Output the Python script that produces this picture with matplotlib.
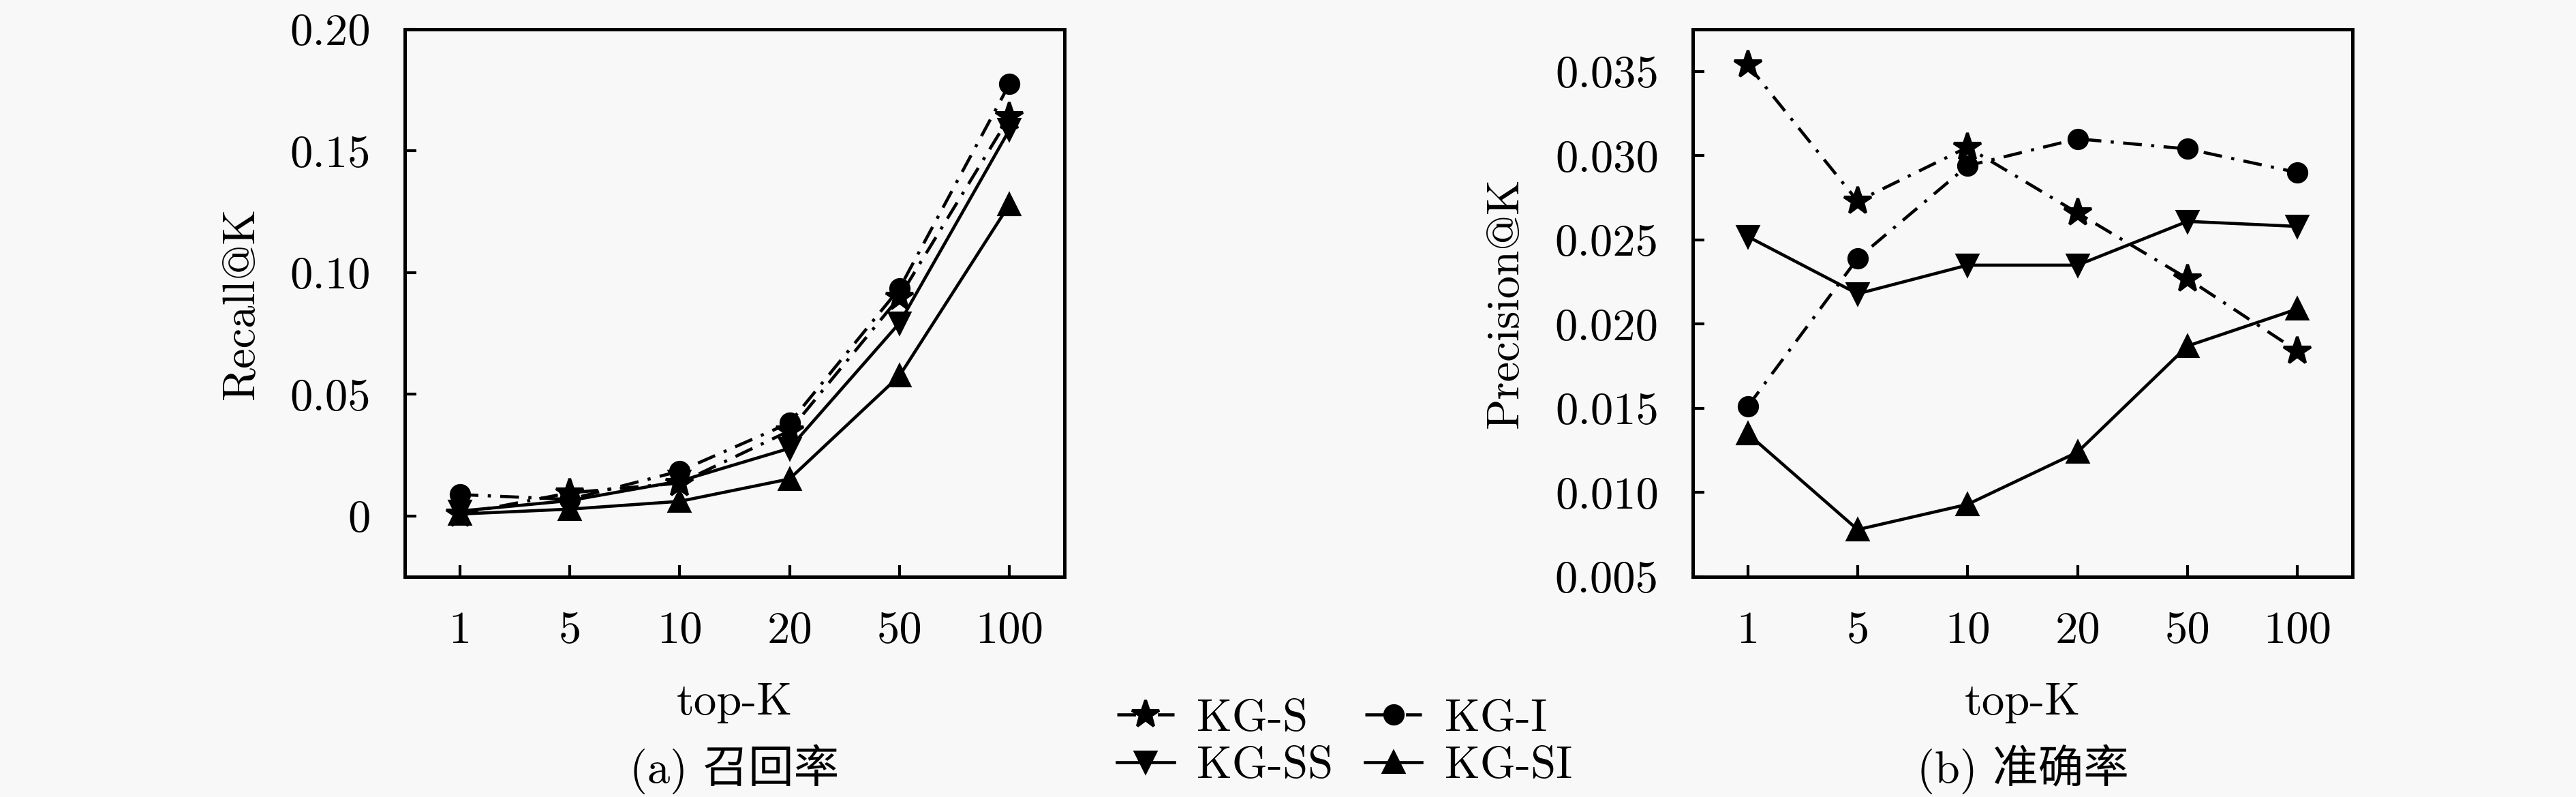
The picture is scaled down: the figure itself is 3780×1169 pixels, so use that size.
#!/usr/bin/env python3

"""
Recall@K and Precision@K for the four KG variants
"""

import matplotlib
matplotlib.use('Agg')
import matplotlib.pyplot as plt

top_k = ['1', '5', '10', '20', '50', '100']
models = ['KG-S', 'KG-I', 'KG-SS', 'KG-SI']

recall_kg_s = [0.0008, 0.0095, 0.0135, 0.0350, 0.0900, 0.1640]
recall_kg_i = [0.0088, 0.0068, 0.0184, 0.0382, 0.0935, 0.1775]
recall_kg_ss = [0.0020, 0.0063, 0.0143, 0.0278, 0.0793, 0.1587]
recall_kg_si = [0.0008, 0.0028, 0.0060, 0.0152, 0.0576, 0.1280]

prec_kg_s = [0.0354, 0.0273, 0.0305, 0.0266, 0.0227, 0.0184]
prec_kg_i = [0.0151, 0.0239, 0.0294, 0.0310, 0.0304, 0.0290]
prec_kg_ss = [0.0252, 0.0218, 0.0235, 0.0235, 0.0261, 0.0258]
prec_kg_si = [0.0135, 0.0078, 0.0093, 0.0124, 0.0187, 0.0209]

recall_ticks = [0, 0.05, 0.10, 0.15, 0.20]
recall_ticklabels = ['0', '0.05', '0.10', '0.15', '0.20']
prec_ticks = [0.005, 0.010, 0.015, 0.020, 0.025, 0.030, 0.035]
prec_ticklabels = ['0.005', '0.010', '0.015', '0.020', '0.025', '0.030', '0.035']

FONT = ['cmr10', 'Noto Sans CJK SC', 'DejaVu Serif']
FS = 16
BG = '#f8f8f8'

styles = {
    'KG-S': dict(marker='*', ms=10, ls=(0, (6, 3, 1, 3))),
    'KG-I': dict(marker='o', ms=6.5, ls=(0, (6, 3, 1, 3))),
    'KG-SS': dict(marker='v', ms=7, ls='-'),
    'KG-SI': dict(marker='^', ms=7, ls='-'),
}


def style_axes(ax, ticks, ticklabels, ylim, ylabel):
    """
    frame, ticks and labels like the pgfplots original
    """
    ax.set_facecolor(BG)
    ax.set_xlim(-0.5, len(top_k) - 0.5)
    ax.set_ylim(*ylim)
    ax.set_xticks(range(len(top_k)))
    ax.set_xticklabels(top_k, family=FONT, fontsize=FS)
    ax.set_yticks(ticks)
    ax.set_yticklabels(ticklabels, family=FONT, fontsize=FS)
    ax.tick_params(direction='in', length=4, width=1.0, pad=12,
                   top=False, right=False)
    ax.tick_params(axis='x', pad=12)
    for s in ax.spines.values():
        s.set_linewidth(1.2)
    ax.set_xlabel('top-K', family=FONT, fontsize=FS, labelpad=11)
    ax.set_ylabel(ylabel, family=FONT, fontsize=FS, labelpad=10)


def draw(ax, series):
    lines = []
    for name, vals in zip(models, series):
        st = styles[name]
        ln, = ax.plot(range(len(top_k)), vals, color='black', lw=1.1,
                      linestyle=st['ls'], marker=st['marker'],
                      markersize=st['ms'], label=name)
        lines.append(ln)
    return lines


def main():
    fig = plt.figure(figsize=(12.6, 3.8967), dpi=300, facecolor=BG)

    ax1 = fig.add_axes([0.1571, 0.2763, 0.2561, 0.6869])
    ax2 = fig.add_axes([0.6571, 0.2763, 0.2561, 0.6869])

    lines = draw(ax1, [recall_kg_s, recall_kg_i, recall_kg_ss, recall_kg_si])
    draw(ax2, [prec_kg_s, prec_kg_i, prec_kg_ss, prec_kg_si])

    style_axes(ax1, recall_ticks, recall_ticklabels, (-0.025, 0.20), 'Recall@K')
    style_axes(ax2, prec_ticks, prec_ticklabels, (0.005, 0.0375), 'Precision@K')

    # captions under each panel
    fig.text(0.2852, 1 - 1128 / 1169, '(a) 召回率', family=FONT, fontsize=FS,
             ha='center', va='center')
    fig.text(0.7852, 1 - 1128 / 1169, '(b) 准确率', family=FONT, fontsize=FS,
             ha='center', va='center')

    # legend: column-first order so rows read KG-S, KG-I / KG-SS, KG-SI
    order = [0, 2, 1, 3]
    fig.legend([lines[i] for i in order], [models[i] for i in order],
               loc='center', bbox_to_anchor=(0.522, 0.068), ncol=2,
               frameon=False, handlelength=1.25, handletextpad=0.5,
               columnspacing=0.7, labelspacing=0.15,
               prop={'family': FONT, 'size': FS})

    fig.savefig('out.png', dpi=300, facecolor=BG)


if __name__ == '__main__':
    main()
